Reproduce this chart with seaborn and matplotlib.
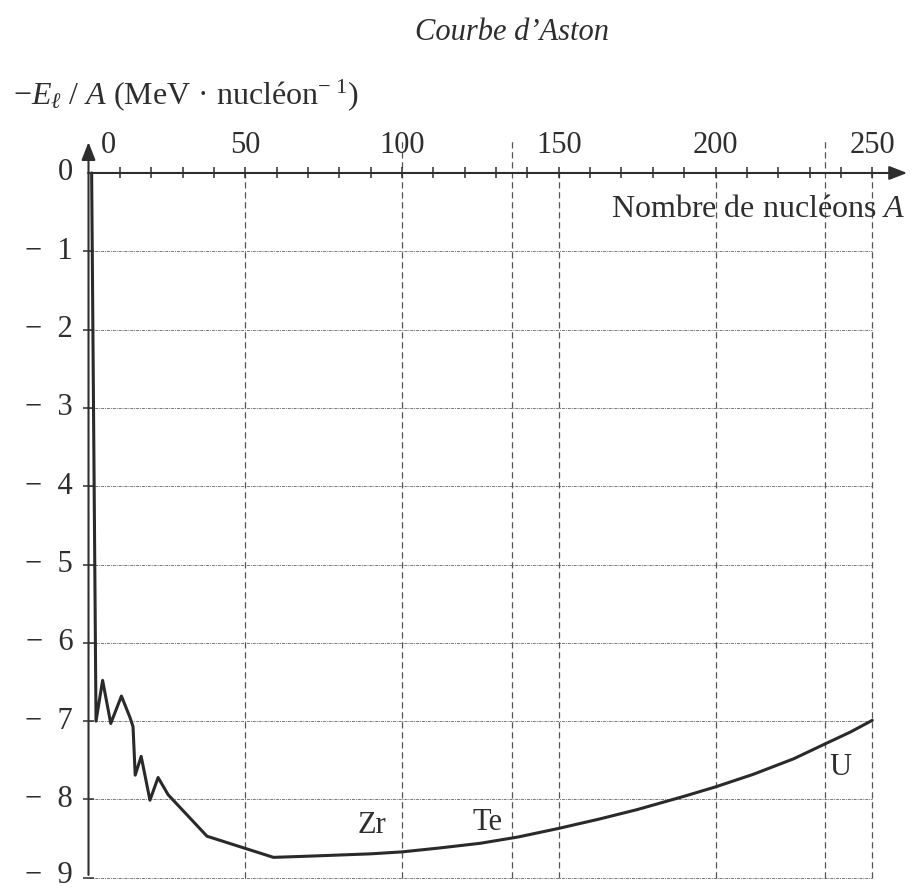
import numpy as np
import pandas as pd
import matplotlib
matplotlib.use("Agg")
import matplotlib.pyplot as plt
import seaborn as sns

# --- données (courbe d'Aston) ---
nucleons = [1, 2.4, 4.5, 7.1, 10.5, 13.2, 14.2, 14.9, 16.8, 19.6, 22.2, 25.4,
            37.8, 59, 70, 80, 90, 100, 112, 125, 137, 150, 163, 175, 190, 200,
            212, 225, 235, 243, 250]
energie = [0, -7.0, -6.48, -7.03, -6.68, -6.95, -7.07, -7.69, -7.45, -8.01, -7.72, -7.94,
           -8.47, -8.74, -8.725, -8.71, -8.695, -8.67, -8.62, -8.56, -8.48, -8.37, -8.25,
           -8.13, -7.96, -7.84, -7.68, -7.48, -7.29, -7.14, -6.99]

x_ticks_major = [0, 50, 100, 150, 200, 250]
x_ticks_minor = list(range(10, 251, 10))
y_ticks = [0, -1, -2, -3, -4, -5, -6, -7, -8, -9]
y_labels = ["0", "−  1", "−  2", "−  3", "−  4", "−  5", "−  6", "−  7", "−  8", "−  9"]
grid_x = [50, 150, 200, 250]
marked_x = [100, 135, 235]          # lignes repères Zr, Te, U
noyaux = ["Zr", "Te", "U"]
noyaux_pos = [(90.5, -8.33), (127.4, -8.29), (239.7, -7.59)]

sns.set_theme(style="white")
plt.rcParams['font.family'] = ['Liberation Serif', 'DejaVu Serif']
plt.rcParams['mathtext.fontset'] = 'custom'
plt.rcParams['mathtext.rm'] = 'Liberation Serif'
plt.rcParams['mathtext.it'] = 'Liberation Serif:italic'

ink = '#2e2e2e'
fs = 22
fig = plt.figure(figsize=(9.17, 8.89), dpi=100)
ax = fig.add_axes([0, 0, 1, 1])
ax.set_xlim(-28.23, 264.27)
ax.set_ylim(-9.144, 2.209)
ax.axis('off')

# grille
ax.hlines(y_ticks[1:], 0, 250, colors='#777777', lw=0.7, linestyles=(0, (3, 1, 1, 1)))
ax.vlines(grid_x, -9, 0, colors='#555555', lw=0.9, linestyles=(0, (5, 3)))
ax.vlines(marked_x, -9, 0.45, colors='#555555', lw=0.9, linestyles=(0, (5, 3)))

# axes avec flèches
ax.annotate("", xy=(262, 0), xytext=(-1, 0),
            arrowprops=dict(arrowstyle='-|>,head_length=0.9,head_width=0.35', lw=1.5, color=ink))
ax.annotate("", xy=(0, 0.43), xytext=(0, -9),
            arrowprops=dict(arrowstyle='-|>,head_length=0.9,head_width=0.35', lw=1.5, color=ink))
ax.vlines(x_ticks_minor, -0.07, 0.07, colors=ink, lw=1.1)
ax.hlines(y_ticks[1:], -1.6, 1.6, colors=ink, lw=1.1)

# courbe
df = pd.DataFrame({"A": nucleons, "E": energie})
sns.lineplot(data=df, x="A", y="E", ax=ax, color='#2a2a2a', lw=2.2, sort=False, estimator=None)

# textes (la dernière graduation est remontée pour rester dans l'image)
for v, lab in zip(y_ticks, y_labels):
    ax.text(-4.9, max(v, -8.97), lab, ha='right', va='center', fontsize=fs, color=ink)
for v in x_ticks_major:
    ax.text(v + (6.5 if v == 0 else 0), 0.16, str(v), ha='center', va='bottom', fontsize=fs, color=ink)
for lab, (xa, ya) in zip(noyaux, noyaux_pos):
    ax.text(xa, ya, lab, ha='center', va='center', fontsize=fs, color=ink)

ax.text(260.5, -0.47, "Nombre de nucléons $A$", ha='right', va='center', fontsize=fs + 1, color=ink)
ax.text(-24.2, 1.0, r"$-E_{\ell}$ / $A$ (MeV · nucléon$^{-\,\,1}$)", ha='left', va='center',
        fontsize=fs + 1, color=ink)
ax.text(135, 1.8, "Courbe d’Aston", ha='center', va='center', fontsize=fs,
        style='italic', color=ink)

fig.savefig("out.png", dpi=100, facecolor='white')
